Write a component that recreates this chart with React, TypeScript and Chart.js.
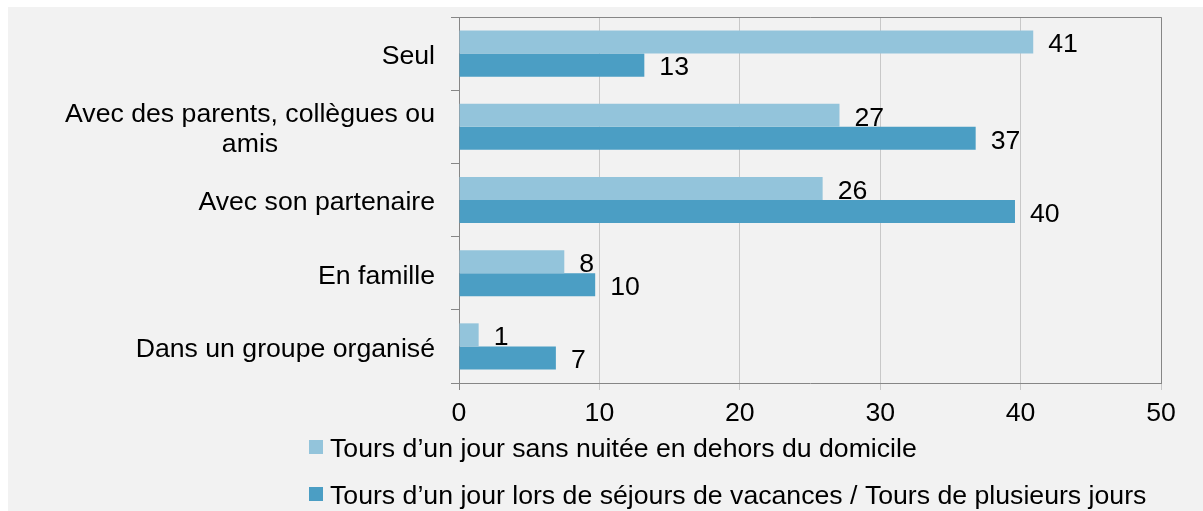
import React, { useEffect, useRef } from "react";
import { Chart, registerables } from "chart.js";

Chart.register(...registerables);

const categories: string[][] = [
  ["Seul"],
  ["Avec des parents, collègues ou", "amis"],
  ["Avec son partenaire"],
  ["En famille"],
  ["Dans un groupe organisé"],
];
const seriesNames = [
  "Tours d’un jour sans nuitée en dehors du domicile",
  "Tours d’un jour lors de séjours de vacances / Tours de plusieurs jours",
];
const dayTrips = [40.9, 27.1, 25.9, 7.5, 1.4];
const holidayTrips = [13.2, 36.8, 39.6, 9.7, 6.9];
const dayTripLabels = ["41", "27", "26", "8", "1"];
const holidayTripLabels = ["13", "37", "40", "10", "7"];
const xMin = 0;
const xMax = 50;
const xStep = 10;

const colors = ["#93c4db", "#4b9ec4"];
const FONT = "'Liberation Sans', Arial, sans-serif";
const FONT_SIZE = 26.67;
const AXIS = "#868686";
const GRID = "#c8c8c8";

const customPlugin = {
  id: "customDraw",
  afterDraw(chart: any) {
    const ctx = chart.ctx as CanvasRenderingContext2D;
    const { left, right, top, bottom } = chart.chartArea;
    ctx.save();
    // top and right frame
    ctx.strokeStyle = AXIS;
    ctx.lineWidth = 1;
    ctx.beginPath();
    ctx.moveTo(left, Math.round(top) + 0.5);
    ctx.lineTo(Math.round(right) + 0.5, Math.round(top) + 0.5);
    ctx.lineTo(Math.round(right) + 0.5, bottom);
    ctx.stroke();

    ctx.font = `${FONT_SIZE}px ${FONT}`;
    ctx.fillStyle = "#000";
    ctx.textBaseline = "middle";

    // category labels (multi-line centered block, right-aligned to axis)
    const yScale = chart.scales.y;
    categories.forEach((lines, i) => {
      const cy = yScale.getPixelForValue(i);
      const w = Math.max(...lines.map((l) => ctx.measureText(l).width));
      const cx = left - 24 - w / 2;
      ctx.textAlign = "center";
      const lh = 30;
      lines.forEach((l, j) => {
        ctx.fillText(l, cx, cy + 3 + (j - (lines.length - 1) / 2) * lh);
      });
    });

    // data labels
    const labelSets = [dayTripLabels, holidayTripLabels];
    chart.data.datasets.forEach((_ds: any, di: number) => {
      const meta = chart.getDatasetMeta(di);
      meta.data.forEach((bar: any, i: number) => {
        ctx.textAlign = "left";
        ctx.fillText(labelSets[di][i], bar.x + 15, bar.y + 3);
      });
    });

    // legend
    const lx = 301;
    const ys = [440, 487];
    seriesNames.forEach((name, i) => {
      ctx.fillStyle = colors[i];
      ctx.fillRect(lx, ys[i] - 7, 14, 14);
      ctx.fillStyle = "#000";
      ctx.textAlign = "left";
      ctx.fillText(name, lx + 21, ys[i] + 3);
    });
    ctx.restore();
  },
};

export default function App() {
  const ref = useRef<HTMLCanvasElement>(null);
  useEffect(() => {
    if (!ref.current) return;
    const chart = new Chart(ref.current, {
      type: "bar",
      data: {
        labels: categories.map((c) => c.join(" ")),
        datasets: [
          {
            label: seriesNames[0],
            data: dayTrips,
            backgroundColor: colors[0],
            categoryPercentage: 0.63,
            barPercentage: 1,
          },
          {
            label: seriesNames[1],
            data: holidayTrips,
            backgroundColor: colors[1],
            categoryPercentage: 0.63,
            barPercentage: 1,
          },
        ],
      },
      options: {
        indexAxis: "y",
        responsive: false,
        animation: false,
        devicePixelRatio: 1,
        layout: { padding: { top: 10, right: 42, left: 0, bottom: 0 } },
        plugins: {
          legend: { display: false },
          tooltip: { enabled: false },
        },
        scales: {
          x: {
            min: xMin,
            max: xMax,
            ticks: {
              stepSize: xStep,
              color: "#000",
              font: { family: FONT, size: FONT_SIZE },
              padding: 8,
            },
            grid: {
              color: (c: any) => (c.index === 0 ? AXIS : GRID),
              tickLength: 7,
            },
            border: { color: AXIS },
            afterFit: (scale: any) => {
              scale.height = 128;
            },
          },
          y: {
            ticks: { display: false },
            grid: {
              drawOnChartArea: false,
              color: AXIS,
              tickLength: 8,
            },
            border: { color: AXIS },
            afterFit: (scale: any) => {
              scale.width = 451;
            },
          },
        },
      },
      plugins: [customPlugin],
    });
    return () => chart.destroy();
  }, []);
  return (
    <div
      style={{
        position: "fixed",
        left: 8,
        top: 7,
        width: 1195,
        height: 504,
        background: "#f2f2f2",
      }}
    >
      <canvas ref={ref} width={1195} height={504} />
    </div>
  );
}
